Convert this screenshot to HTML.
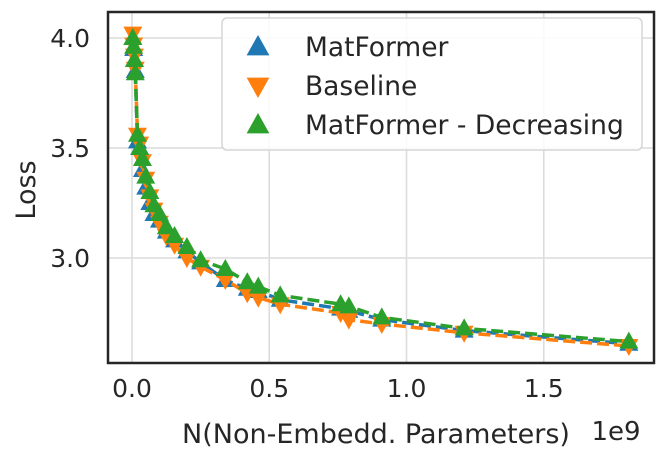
<!DOCTYPE html>
<html><head><meta charset="utf-8"><style>
body{margin:0;background:#fff;}
svg{display:block;font-family:"DejaVu Sans","Liberation Sans",sans-serif;}
</style></head><body>
<svg id="chart" width="665" height="458" viewBox="0 0 665 458">
<rect x="0" y="0" width="665" height="458" fill="#fff"/>
<g id="grid"></g>
<g id="series"></g>
<rect x="108" y="12" width="546" height="351" fill="none" stroke="#262626" stroke-width="2.5"/>
<g id="ticks"></g>
<text x="35" y="190" font-size="27" fill="#262626" text-anchor="middle" transform="rotate(-90 35 190)">Loss</text>
<text x="376" y="443" font-size="27" fill="#262626" text-anchor="middle">N(Non-Embedd. Parameters)</text>
<text x="616" y="440" font-size="26" fill="#262626" text-anchor="middle">1e9</text>
<g>
<rect x="222" y="18" width="420" height="132" rx="5" fill="#fff" fill-opacity="0.85" stroke="#d5d5d5" stroke-width="1.5"/>
</g>
<g id="legend-items"></g>
</svg>
<script>
const xs=[0.003,0.006,0.009,0.012,0.02,0.028,0.038,0.05,0.065,0.08,0.1,0.125,0.155,0.2,0.25,0.34,0.42,0.46,0.54,0.76,0.79,0.91,1.21,1.81];
const matformer=[4.0,3.95,3.9,3.85,3.53,3.5,3.4,3.32,3.25,3.2,3.17,3.12,3.08,3.03,2.98,2.9,2.86,2.85,2.81,2.77,2.76,2.72,2.67,2.61];
const baseline=[4.02,3.97,3.92,3.86,3.56,3.52,3.44,3.36,3.28,3.22,3.16,3.1,3.06,3.0,2.96,2.9,2.84,2.82,2.79,2.75,2.72,2.7,2.66,2.6];
const decreasing=[4.0,3.96,3.9,3.84,3.56,3.5,3.45,3.37,3.3,3.24,3.2,3.14,3.1,3.05,2.99,2.95,2.89,2.87,2.83,2.79,2.78,2.73,2.68,2.62];
const xTicks=[0,0.5,1.0,1.5];
const xTickLabels=["0.0","0.5","1.0","1.5"];
const yTicks=[3.0,3.5,4.0];
const yTickLabels=["3.0","3.5","4.0"];
const seriesNames=["MatFormer","Baseline","MatFormer - Decreasing"];

const NS="http://www.w3.org/2000/svg";
const X=v=>132+v*274.5;
const Y=v=>38+(4.0-v)*220;
function mk(tag,attrs,parent){const e=document.createElementNS(NS,tag);for(const k in attrs)e.setAttribute(k,attrs[k]);parent.appendChild(e);return e;}
const grid=document.getElementById('grid'),ticks=document.getElementById('ticks'),ser=document.getElementById('series'),leg=document.getElementById('legend-items');
xTicks.forEach((t,i)=>{
  const l=mk('line',{x1:X(t),x2:X(t),y1:12,y2:363,stroke:'#dcdcdc','stroke-width':1.6},grid);
  
  
  const tx=mk('text',{x:X(t),y:397,'font-size':25,fill:'#262626','text-anchor':'middle'},ticks);
  tx.textContent=xTickLabels[i];
  
  
});
yTicks.forEach((t,i)=>{
  const l=mk('line',{x1:108,x2:654,y1:Y(t),y2:Y(t),stroke:'#dcdcdc','stroke-width':1.6},grid);
  
  
  const tx=mk('text',{x:90,y:Y(t)+9,'font-size':25,fill:'#262626','text-anchor':'end'},ticks);
  tx.textContent=yTickLabels[i];
  
  
});
function tri(cx,cy,up,s){return up?`${cx},${cy-s} ${cx-s*0.95},${cy+s*0.7} ${cx+s*0.95},${cy+s*0.7}`:`${cx},${cy+s} ${cx-s*0.95},${cy-s*0.7} ${cx+s*0.95},${cy-s*0.7}`;}
const defs=[[matformer,'#1f77b4',true,'matformer'],[baseline,'#ff7f0e',false,'baseline'],[decreasing,'#2ca02c',true,'matformer-decreasing']];
defs.forEach(([vals,col,up,name])=>{
  const g=mk('g',{},ser);
  
  
  const pts=xs.map((x,i)=>X(x)+','+Y(vals[i])).join(' ');
  const pl=mk('polyline',{points:pts,fill:'none',stroke:col,'stroke-width':3.5,'stroke-dasharray':'12,5'},g);
  
  
  xs.forEach((x,i)=>{
    const p=mk('polygon',{points:tri(X(x),Y(vals[i]),up,10),fill:col},g);
    
    
  });
});
defs.forEach(([vals,col,up,name],i)=>{
  const cy=47+i*39;
  const p=mk('polygon',{points:tri(258,cy,up,12),fill:col},leg);
  
  
  const t=mk('text',{x:305,y:cy+9,'font-size':26.5,fill:'#262626'},leg);
  t.textContent=seriesNames[i];
  
  
});
</script>
</body></html>
